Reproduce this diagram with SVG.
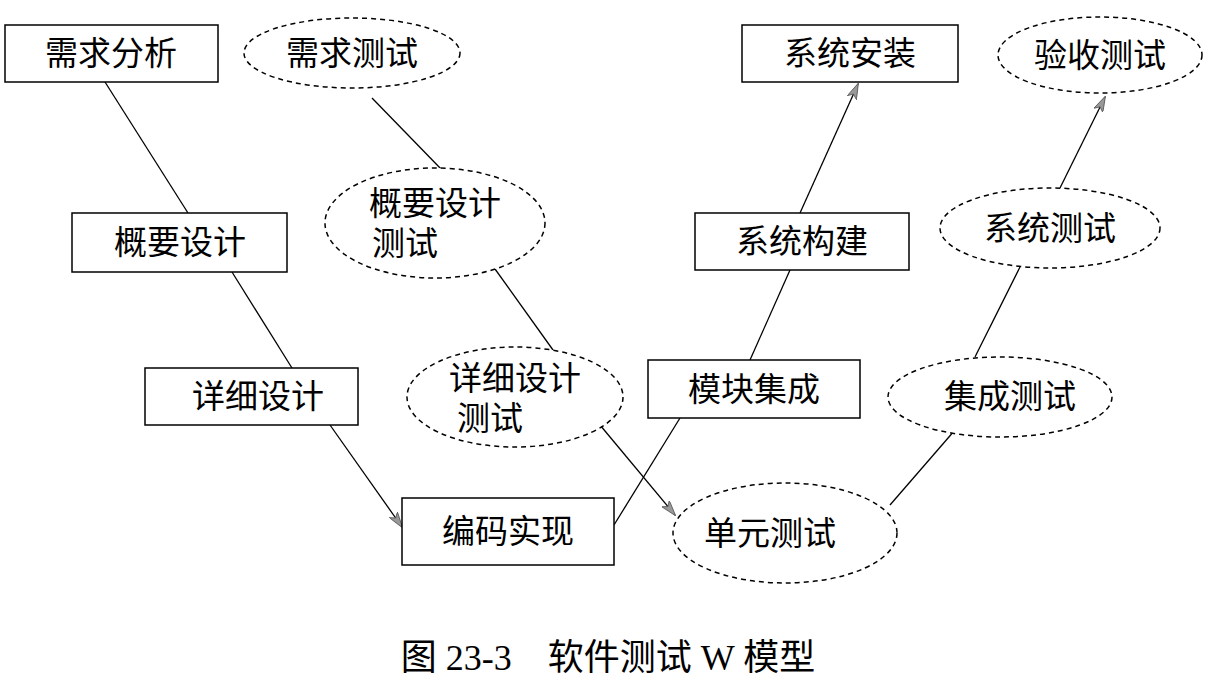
<svg xmlns="http://www.w3.org/2000/svg" width="1219" height="695" viewBox="0 0 1219 695">
<style>
.b{fill:#fff;stroke:#000;stroke-width:1.5}
.e{fill:#fff;stroke:#000;stroke-width:1.5;stroke-dasharray:5 4}
text{font-family:"Liberation Serif","Noto Sans CJK SC",serif;font-size:33px;fill:#000;text-anchor:middle}
.c line{stroke:#000;stroke-width:1.3}
</style>
<defs><marker id="a" markerWidth="16" markerHeight="10" refX="15" refY="5" orient="auto" markerUnits="userSpaceOnUse"><path d="M0,0 L16,5 L0,10 L4,5 Z" fill="#999" stroke="#555" stroke-width="0.8"/></marker></defs>
<rect width="1219" height="695" fill="#fff"/>
<g class="c">
<line x1="105" y1="82" x2="188" y2="213"/>
<line x1="232" y1="272" x2="292" y2="368"/>
<line x1="330" y1="425" x2="402" y2="527" marker-end="url(#a)"/>
<line x1="372" y1="98" x2="442" y2="170"/>
<line x1="490" y1="262" x2="553" y2="350"/>
<line x1="600" y1="425" x2="675" y2="515" marker-end="url(#a)"/>
<line x1="614" y1="525" x2="680" y2="418"/>
<line x1="750" y1="360" x2="790" y2="270"/>
<line x1="800" y1="213" x2="858" y2="84" marker-end="url(#a)"/>
<line x1="890" y1="505" x2="955" y2="430"/>
<line x1="975" y1="357" x2="1020" y2="267"/>
<line x1="1060" y1="188" x2="1105" y2="97" marker-end="url(#a)"/>
</g>
<g id="n1"><rect class="b" x="5" y="25" width="213" height="57"/><text x="111" y="65">需求分析</text></g>
<g id="n2"><rect class="b" x="72" y="213" width="215" height="59"/><text x="180" y="254">概要设计</text></g>
<g id="n3"><rect class="b" x="145" y="368" width="213" height="57"/><text x="258" y="408">详细设计</text></g>
<g id="n4"><rect class="b" x="402" y="498" width="212" height="67"/><text x="508" y="543">编码实现</text></g>
<g id="n5"><rect class="b" x="648" y="360" width="212" height="58"/><text x="754" y="401">模块集成</text></g>
<g id="n6"><rect class="b" x="695" y="213" width="214" height="57"/><text x="802" y="253">系统构建</text></g>
<g id="n7"><rect class="b" x="742" y="25" width="216" height="57"/><text x="850" y="65">系统安装</text></g>
<g id="e1"><ellipse class="e" cx="352" cy="53" rx="108" ry="35"/><text x="352" y="65">需求测试</text></g>
<g id="e2"><ellipse class="e" cx="435" cy="223" rx="110" ry="55"/><text x="435" y="215">概要设计</text><text x="405" y="255">测试</text></g>
<g id="e3"><ellipse class="e" cx="515" cy="397" rx="108" ry="50"/><text x="515" y="390">详细设计</text><text x="490" y="430">测试</text></g>
<g id="e4"><ellipse class="e" cx="785" cy="533" rx="112" ry="50"/><text x="770" y="545">单元测试</text></g>
<g id="e5"><ellipse class="e" cx="1000" cy="397" rx="112" ry="40"/><text x="1010" y="408">集成测试</text></g>
<g id="e6"><ellipse class="e" cx="1050" cy="228" rx="110" ry="40"/><text x="1050" y="240">系统测试</text></g>
<g id="e7"><ellipse class="e" cx="1100" cy="55" rx="102" ry="38"/><text x="1100" y="67">验收测试</text></g>
<text x="608" y="670" style="font-size:36px">图 23-3　软件测试 W 模型</text>
</svg>
